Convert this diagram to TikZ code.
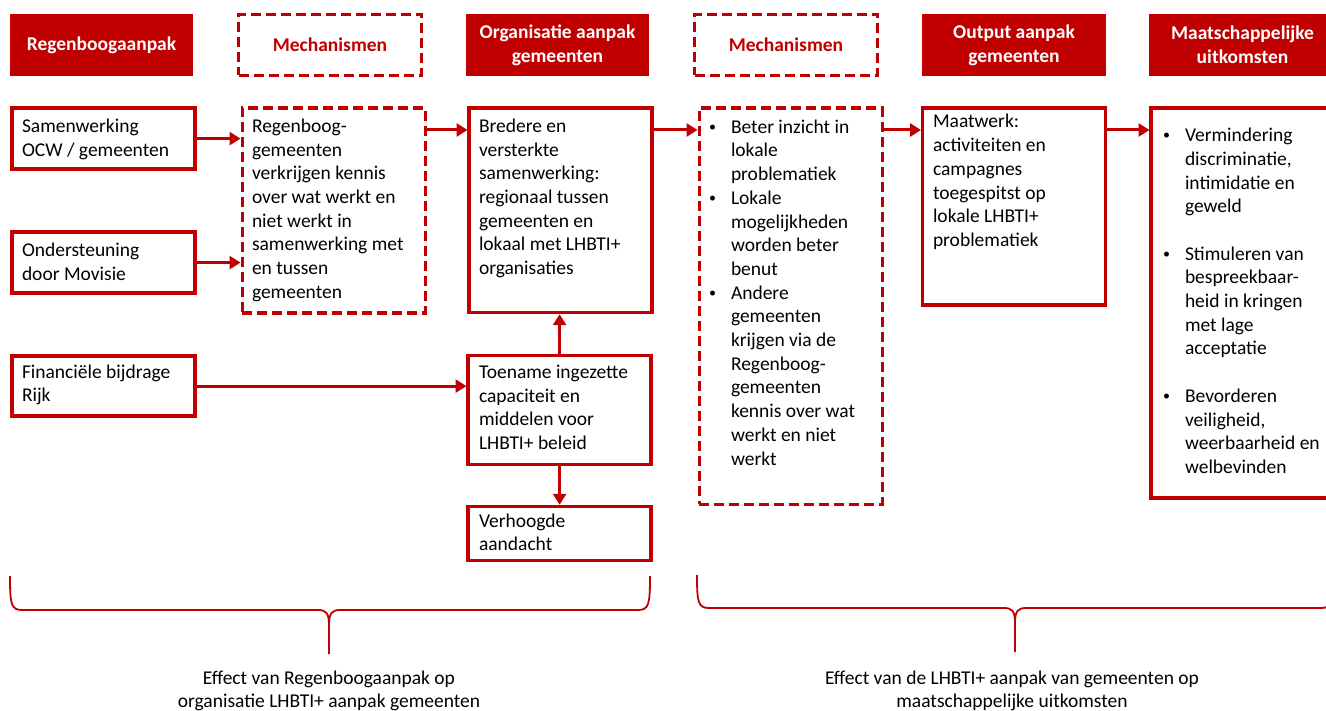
\documentclass[tikz,border=0pt]{standalone}
\usepackage{fontspec}
\setmainfont{Carlito}
\usetikzlibrary{arrows.meta}
\definecolor{dred}{RGB}{192,0,0}
\newcommand\mylines[1]{\begin{tabular}[t]{@{}l@{}}#1\end{tabular}}
\newcommand\mybul[1]{\begin{tabular}[t]{@{}l@{}l@{}}#1\end{tabular}}
\newcommand\mycen[1]{\begin{tabular}[t]{@{}c@{}}#1\end{tabular}}
\newcommand\bu{\makebox[24pt][l]{\hspace{2pt}\raisebox{2pt}{\fontsize{14}{14}\selectfont\textbullet}}}
\begin{document}
\begin{tikzpicture}[x=1pt,y=-1pt,
  basefont/.style={font=\fontsize{19.5}{23.7}\selectfont, inner sep=0pt, outer sep=0pt},
  hdr/.style={basefont, fill=dred, text=white, font=\fontsize{19.5}{23.7}\selectfont\bfseries, align=center, anchor=north west, minimum height=62pt},
  hdrd/.style={basefont, draw=dred, line width=3.2pt, dash pattern=on 10pt off 5pt, text=dred, font=\fontsize{19.5}{23.7}\selectfont\bfseries, anchor=north west, minimum height=61pt},
  rbox/.style={draw=dred, line width=3.3pt, inner sep=0pt, outer sep=1.6pt, anchor=north west},
  dbox/.style={rbox, line width=3.2pt, dash pattern=on 10pt off 5pt},
  txt/.style={basefont, anchor=base west},
  arr/.style={draw=dred, line width=3pt, -{Triangle[length=11pt,width=13pt]}},
  brace/.style={draw=dred, line width=1.8pt}
]
\useasboundingbox (0,0) rectangle (1326,711);
\clip (0,0) rectangle (1326,711);

% headers
\node[hdr, minimum width=183pt] (h1) at (10,14) {Regenboogaanpak};
\node[hdrd, minimum width=183pt] (h2) at (238.5,14.5) {Mechanismen};
\node[hdr, minimum width=183pt] (h3) at (466,14) {Organisatie aanpak\\gemeenten};
\node[hdrd, minimum width=183pt] (h4) at (694.5,14.5) {Mechanismen};
\node[hdr, minimum width=184pt] (h5) at (922,14) {Output aanpak\\gemeenten};
\node[hdr, minimum width=187pt] (h6) at (1149,14) {Maatschappelijke\\uitkomsten};

% boxes
\node[rbox, minimum width=183pt, minimum height=61pt] (sam) at (10.5,106.5) {};
\node[rbox, minimum width=183pt, minimum height=61pt] (ond) at (10.5,230.5) {};
\node[rbox, minimum width=183pt, minimum height=60pt] (fin) at (10.5,354.5) {};
\node[dbox, minimum width=183pt, minimum height=205pt] (reg) at (240.5,106.5) {};
\node[rbox, minimum width=183pt, minimum height=204.5pt] (bre) at (467.5,106.5) {};
\node[rbox, minimum width=183pt, minimum height=109pt] (toe) at (466.5,354.2) {};
\node[rbox, minimum width=183pt, minimum height=54.4pt] (ver) at (466.5,504.8) {};
\node[dbox, minimum width=183pt, minimum height=396pt] (mec) at (697.5,106.5) {};
\node[rbox, minimum width=183pt, minimum height=197pt] (maat) at (921,106.5) {};
\node[rbox, minimum width=190pt, minimum height=390pt] (uit) at (1149.5,106.5) {};

% texts
\node[txt] (samt) at (22,133) {\mylines{Samenwerking\\OCW / gemeenten}};
\node[txt] (ondt) at (22,257) {\mylines{Ondersteuning\\door Movisie}};
\node[txt] (fint) at (22,378) {\mylines{Financi\"ele bijdrage\\Rijk}};
\node[txt] (regt) at (252,132.5) {\mylines{Regenboog-\\gemeenten\\verkrijgen kennis\\over wat werkt en\\niet werkt in\\samenwerking met\\en tussen\\gemeenten}};
\node[txt] (bret) at (479,132.5) {\mylines{Bredere en\\versterkte\\samenwerking:\\regionaal tussen\\gemeenten en\\lokaal met LHBTI+\\organisaties}};
\node[txt] (toet) at (479,378.5) {\mylines{Toename ingezette\\capaciteit en\\middelen voor\\LHBTI+ beleid}};
\node[txt] (vert) at (479,527) {\mylines{Verhoogde\\aandacht}};
\node[txt] (mect) at (707,133.3) {\mybul{\bu & Beter inzicht in\\ & lokale\\ & problematiek\\ \bu & Lokale\\ & mogelijkheden\\ & worden beter\\ & benut\\ \bu & Andere\\ & gemeenten\\ & krijgen via de\\ & Regenboog-\\ & gemeenten\\ & kennis over wat\\ & werkt en niet\\ & werkt}};
\node[txt] (maatt) at (933,128) {\mylines{Maatwerk:\\activiteiten en\\campagnes\\toegespitst op\\lokale LHBTI+\\problematiek}};
\node[txt] (uitt) at (1161,141.7) {\mybul{\bu & Vermindering\\ & discriminatie,\\ & intimidatie en\\ & geweld\\[23.7pt] \bu & Stimuleren van\\ & bespreekbaar-\\ & heid in kringen\\ & met lage\\ & acceptatie\\[23.7pt] \bu & Bevorderen\\ & veiligheid,\\ & weerbaarheid en\\ & welbevinden}};

% connectors
\draw[arr] (sam) -- (sam -| reg.west);
\draw[arr] (ond) -- (ond -| reg.west);
\draw[arr] (fin) -- (fin -| toe.west);
\draw[arr] ([yshift=-23.5pt]reg.north east) -- ([yshift=-23.5pt]bre.north west);
\draw[arr] ([yshift=-23.5pt]bre.north east) -- ([yshift=-23.5pt]mec.north west);
\draw[arr] ([yshift=-23.5pt]mec.north east) -- ([yshift=-23.5pt]maat.north west);
\draw[arr] ([yshift=-23.5pt]maat.north east) -- ([yshift=-23.5pt]uit.north west);
\draw[arr] (toe.north) -- (toe.north |- bre.south);
\draw[arr] (toe.south) -- (toe.south |- ver.north);

% braces
\draw[brace] (10,576) .. controls (10,604) and (11,610) .. (22,610) -- (318,610)
  .. controls (326,610) and (329,613) .. (329,625) -- (329,654);
\draw[brace] (329,625) .. controls (329,613) and (332,610) .. (340,610) -- (638,610)
  .. controls (649,610) and (650,604) .. (650,576);
\draw[brace] (697,575) .. controls (697,602) and (698,608) .. (709,608) -- (1004,608)
  .. controls (1012,608) and (1015,611) .. (1015,623) -- (1015,652);
\draw[brace] (1015,623) .. controls (1015,611) and (1018,608) .. (1026,608) -- (1321,608)
  .. controls (1332,608) and (1333,602) .. (1333,575);

% bottom labels
\node[basefont, anchor=base] (eff1) at (329,684) {\mycen{Effect van Regenboogaanpak op\\organisatie LHBTI+ aanpak gemeenten}};
\node[basefont, anchor=base] (eff2) at (1012,684) {\mycen{Effect van de LHBTI+ aanpak van gemeenten op\\maatschappelijke uitkomsten}};
\end{tikzpicture}
\end{document}
